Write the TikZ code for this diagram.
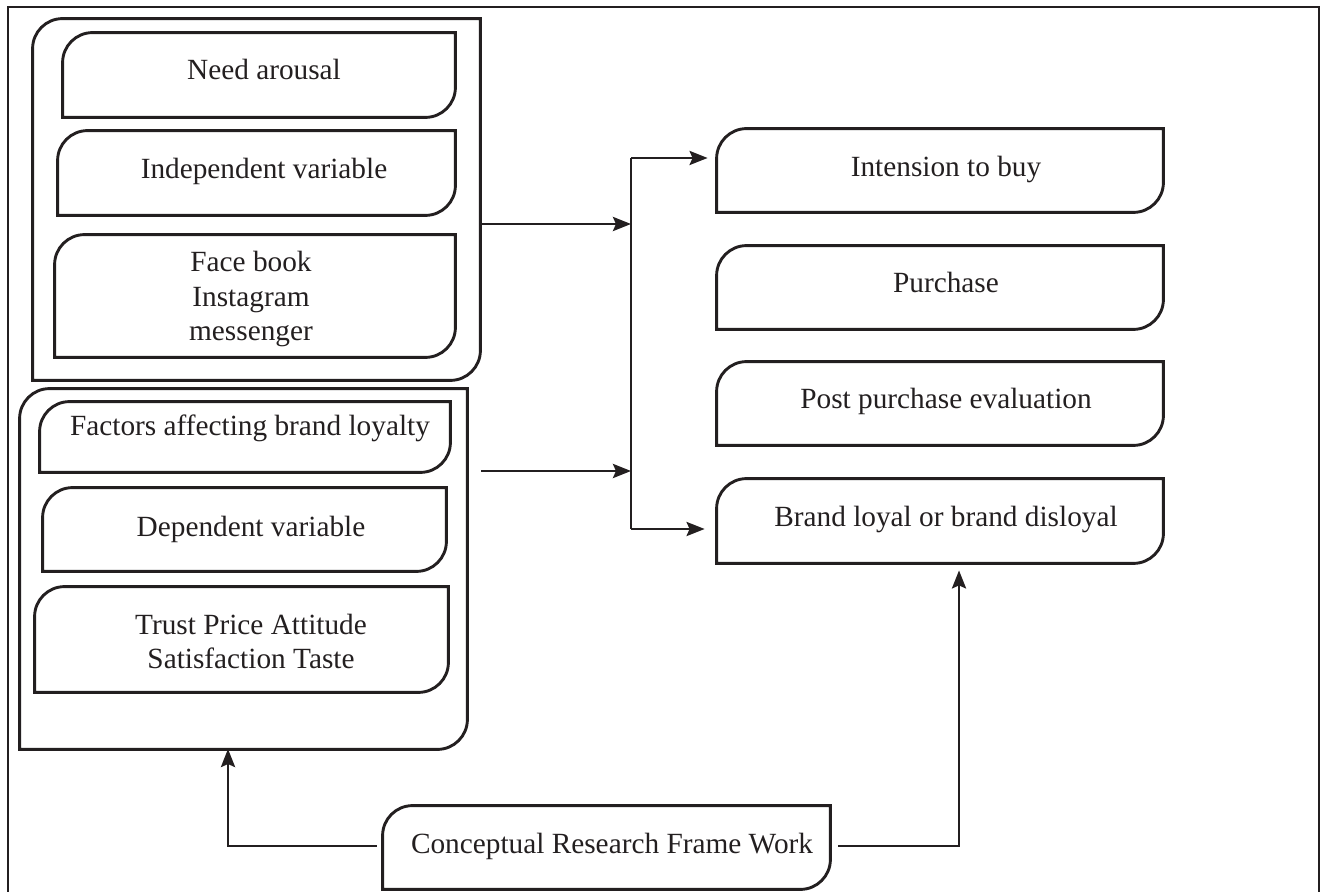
\documentclass[tikz,border=0pt]{standalone}
\usepackage{fontspec}
\setmainfont{Liberation Serif}
\usetikzlibrary{fit,arrows.meta,calc}
\definecolor{ink}{RGB}{35,31,32}
\newcommand\tlbrbox[1]{\draw[boxline] (#1.south west) -- ([yshift=-15pt]#1.north west) arc[start angle=180,end angle=90,radius=15pt] -- (#1.north east) -- ([yshift=15pt]#1.south east) arc[start angle=0,end angle=-90,radius=15pt] -- cycle;}
\tikzset{
  boxline/.style={line width=1.45pt, draw=ink},
  frameline/.style={line width=1.45pt, draw=ink},
  txt/.style={font=\fontsize{14.65pt}{17.5pt}\selectfont, inner sep=0pt, text=ink, anchor=base},
  area/.style={inner sep=0pt, draw=none},
  link/.style={line width=1.45pt, draw=ink},
  arr/.style={link, -{Stealth[length=9pt,width=7pt,inset=1.5pt]}}
}
\begin{document}
\begin{tikzpicture}[x=0.5pt,y=-0.5pt]
\useasboundingbox (0,0) rectangle (1321,892);
% outer frame (open at the bottom)
\draw[frameline] (8,892) -- (8,7) -- (1319,7) -- (1319,892);

% left group 1
\node[area, fit={(33,19) (480,380)}] (G1) {};
\node[area, fit={(63,33) (455,117)}] (NA) {};
\node[area, fit={(58,131) (455,215)}] (IV) {};
\node[area, fit={(55,235) (455,357)}] (FB) {};
% left group 2
\node[area, fit={(20,389) (467,749)}] (G2) {};
\node[area, fit={(40,402) (450,472)}] (FA) {};
\node[area, fit={(43,488) (446,571)}] (DV) {};
\node[area, fit={(35,587) (448,692)}] (TR) {};
% right column
\node[area, fit={(717,129) (1163,212)}] (IB) {};
\node[area, fit={(717,246) (1163,329)}] (PU) {};
\node[area, fit={(717,362) (1163,445)}] (PP) {};
\node[area, fit={(717,479) (1163,563)}] (BL) {};
% bottom
\node[area, fit={(383,806) (830,889)}] (CR) {};

\foreach \b in {G1,NA,IV,FB,G2,FA,DV,TR,IB,PU,PP,BL,CR} {\tlbrbox{\b}}

% texts
\node[txt] (tNA) at (264,80) {Need arousal};
\node[txt] (tIV) at (264,179) {Independent variable};
\node[txt] (tFB1) at (251,272) {Face book};
\node[txt] (tFB2) at (251,307) {Instagram};
\node[txt] (tFB3) at (251,341) {messenger};
\node[txt] (tFA) at (250,436) {Factors affecting brand loyalty};
\node[txt] (tDV) at (251,536) {Dependent variable};
\node[txt] (tTR1) at (251,634) {Trust Price Attitude};
\node[txt] (tTR2) at (251,668) {Satisfaction Taste};
\node[txt] (tIB) at (946,177) {Intension to buy};
\node[txt] (tPU) at (946,293) {Purchase};
\node[txt] (tPP) at (946,409) {Post purchase evaluation};
\node[txt] (tBL) at (946,526) {Brand loyal or brand disloyal};
\node[txt] (tCR) at (612,853) {Conceptual Research Frame Work};

% junction coordinates
\coordinate (ja) at (631,224);
\coordinate (jb) at (631,471);
\coordinate (jt) at (631,158);
\coordinate (jd) at (631,529);
\coordinate (cl) at (228,749);
\coordinate (cr) at (959,570);

% connectors
\draw[arr] (G1.east |- ja) -- (ja);
\draw[arr, shorten <=7pt] (G2.east |- jb) -- (jb);
\draw[link] (jt) -- (jd);
\draw[arr, shorten >=4.5pt] (jt) -- (jt -| IB.west);
\draw[arr, shorten >=6pt] (jd) -- (jd -| BL.west);
\draw[arr, shorten <=3pt] ($(CR.west)+(0,-1.5)$) -| (cl);
\draw[arr, shorten <=4pt, shorten >=3.5pt] ($(CR.east)+(0,-1.5)$) -| (BL.south -| cr);
\end{tikzpicture}
\end{document}
